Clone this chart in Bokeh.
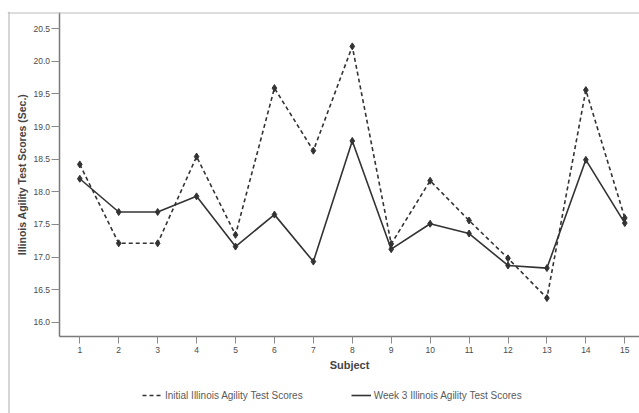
from bokeh.plotting import figure
from bokeh.models import (FixedTicker, NumeralTickFormatter, Legend, LegendItem, Range1d, Span)
from bokeh.embed import file_html
from bokeh.resources import INLINE

subjects = list(range(1, 16))
initial = [18.42, 17.21, 17.21, 18.54, 17.34, 19.59, 18.63, 20.23, 17.20, 18.17, 17.56, 16.98, 16.37, 19.56, 17.60]
week3 = [18.20, 17.69, 17.69, 17.93, 17.16, 17.65, 16.93, 18.78, 17.12, 17.51, 17.36, 16.87, 16.83, 18.49, 17.52]
y_ticks = [16.0, 16.5, 17.0, 17.5, 18.0, 18.5, 19.0, 19.5, 20.0, 20.5]
series_names = ["Initial Illinois Agility Test Scores", "Week 3 Illinois Agility Test Scores"]

FONT = "Liberation Sans"
INK = "#333333"

# frame covers the whole card; axes are pinned inside it
X0, X1 = -0.857, 15.378
Y0, Y1 = 14.60, 20.765
PX_X = 632 / (X1 - X0)
PX_Y = 402 / (Y1 - Y0)
y_axis_at = 1 - 19.8 / PX_X
x_axis_at = 16 - 14.3 / PX_Y

p = figure(width=639, height=413, output_backend="svg", toolbar_location=None,
           x_range=Range1d(X0, X1), y_range=Range1d(Y0, Y1),
           min_border_left=7, min_border_right=0, min_border_top=11, min_border_bottom=0)
p.outline_line_color = None
p.grid.grid_line_color = None
p.background_fill_color = "white"
p.border_fill_color = "white"

# card border (left and top)
p.add_layout(Span(location=X0 + 1.5 / PX_X, dimension="height", line_color="#bbbbbb", line_width=1.2))
p.add_layout(Span(location=Y1 - 1.5 / PX_Y, dimension="width", line_color="#bbbbbb", line_width=1.2))

# axes
p.xaxis.fixed_location = x_axis_at
p.yaxis.fixed_location = y_axis_at
p.xaxis.bounds = (y_axis_at, X1)
p.yaxis.bounds = (x_axis_at, Y1 - 1.0 / PX_Y)
p.xaxis.ticker = FixedTicker(ticks=subjects)
p.yaxis.ticker = FixedTicker(ticks=y_ticks)
p.yaxis.formatter = NumeralTickFormatter(format="0.0")
for ax in (p.xaxis[0], p.yaxis[0]):
    ax.axis_line_color = "#7a7a7a"
    ax.axis_line_width = 1.5
    ax.major_tick_line_color = "#8a8a8a"
    ax.major_tick_in = 0
    ax.minor_tick_line_color = None
    ax.major_label_text_font = FONT
    ax.major_label_text_font_size = "8.5px"
    ax.major_label_text_color = "#4a4a4a"
    ax.axis_label_text_font = FONT
    ax.axis_label_text_font_style = "bold"
    ax.axis_label_text_color = "#444444"
p.xaxis.axis_label_text_font_size = "11px"
p.yaxis.axis_label_text_font_size = "10.5px"
p.xaxis.major_tick_out = 7
p.xaxis.major_label_standoff = 3
p.xaxis.axis_label = "Subject"
p.xaxis.axis_label_standoff = 3
p.yaxis.major_tick_out = 8
p.yaxis.major_label_standoff = 2
p.yaxis.axis_label = "Illinois Agility Test Scores (Sec.)"
p.yaxis.axis_label_standoff = 2

l1 = p.line(subjects, initial, line_color=INK, line_width=1.6, line_dash="4 3")
p.scatter(subjects, initial, marker="diamond", size=7, color=INK)
l2 = p.line(subjects, week3, line_color=INK, line_width=1.6)
p.scatter(subjects, week3, marker="diamond", size=7, color=INK)

legend = Legend(items=[LegendItem(label=series_names[0], renderers=[l1]),
                       LegendItem(label=series_names[1], renderers=[l2])],
                orientation="horizontal", location=(135, 12))
legend.padding = 0
legend.margin = 0
legend.spacing = 48
legend.glyph_width = 20
legend.glyph_height = 12
legend.label_height = 12
legend.label_standoff = 3
legend.label_text_font = FONT
legend.label_text_font_size = "10px"
legend.label_text_color = "#5a5a5a"
legend.border_line_color = None
legend.background_fill_alpha = 0
p.add_layout(legend, "center")

open("out.html", "w").write(file_html(p, INLINE))
